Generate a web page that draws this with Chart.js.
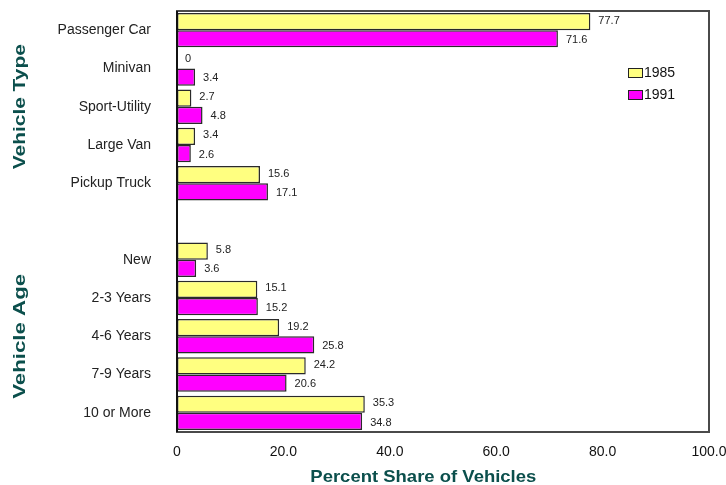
<!DOCTYPE html>
<html>
<head>
<meta charset="utf-8">
<script src="https://cdn.jsdelivr.net/npm/chart.js@4.4.1/dist/chart.umd.min.js"></script>
<style>
  html, body { margin: 0; padding: 0; background: #ffffff; }
  #wrap { width: 726px; height: 485px; position: relative; }
</style>
</head>
<body>
<div id="wrap"><canvas id="c" width="726" height="485"></canvas></div>
<script>
const categories = ['Passenger Car', 'Minivan', 'Sport-Utility', 'Large Van', 'Pickup Truck', '',
                    'New', '2-3 Years', '4-6 Years', '7-9 Years', '10 or More'];
const series1985 = [77.7, 0, 2.7, 3.4, 15.6, null, 5.8, 15.1, 19.2, 24.2, 35.3];
const series1991 = [71.6, 3.4, 4.8, 2.6, 17.1, null, 3.6, 15.2, 25.8, 20.6, 34.8];
const seriesNames = ['1985', '1991'];
const xTicks = [0, 20, 40, 60, 80, 100];
const groupTitles = [
  { text: 'Vehicle Type', from: 'Passenger Car', to: 'Pickup Truck' },
  { text: 'Vehicle Age', from: 'New', to: '10 or More' }
];
const xTitle = 'Percent Share of Vehicles';

const FONT = "'Liberation Sans', Arial, sans-serif";
const TEAL = '#0b4f4c';

const framePlugin = {
  id: 'frame',
  afterDatasetsDraw(chart) {
    const { ctx, chartArea: a } = chart;
    ctx.save();
    ctx.strokeStyle = '#4a4a4a';
    ctx.lineWidth = 2;
    ctx.strokeRect(a.left, a.top, a.right - a.left, a.bottom - a.top);
    ctx.strokeStyle = '#111';
    ctx.beginPath();
    ctx.moveTo(a.left, a.top);
    ctx.lineTo(a.left, a.bottom);
    ctx.stroke();
    ctx.restore();
  }
};

const valueLabelPlugin = {
  id: 'valueLabels',
  afterDatasetsDraw(chart) {
    const { ctx } = chart;
    ctx.save();
    ctx.font = '11px ' + FONT;
    ctx.fillStyle = '#222';
    ctx.textAlign = 'left';
    ctx.textBaseline = 'middle';
    chart.data.datasets.forEach((ds, di) => {
      const meta = chart.getDatasetMeta(di);
      meta.data.forEach((el, i) => {
        const v = ds.data[i];
        if (v === null || v === undefined) return;
        const txt = v === 0 ? '0' : v.toFixed(1);
        ctx.fillText(txt, el.x + 8, el.y + (di === 0 ? -1 : 1));
      });
    });
    ctx.restore();
  }
};

function stretchedText(ctx, text, x, y, targetWidth, rotate) {
  const w = ctx.measureText(text).width;
  const s = targetWidth / w;
  ctx.save();
  ctx.translate(x, y);
  if (rotate) ctx.rotate(-Math.PI / 2);
  ctx.scale(s, 1);
  ctx.fillText(text, 0, 0);
  ctx.restore();
}

const titlesPlugin = {
  id: 'titles',
  afterDraw(chart) {
    const { ctx, chartArea: a } = chart;
    const y = chart.scales.y;
    ctx.save();
    ctx.fillStyle = TEAL;
    ctx.font = 'bold 17px ' + FONT;
    ctx.textAlign = 'center';
    ctx.textBaseline = 'middle';
    groupTitles.forEach(g => {
      const i0 = categories.indexOf(g.from), i1 = categories.indexOf(g.to);
      const cy = (y.getPixelForValue(i0) + y.getPixelForValue(i1)) / 2;
      stretchedText(ctx, g.text, 20, cy, 125, true);
    });
    ctx.font = 'bold 17px ' + FONT;
    stretchedText(ctx, xTitle, a.left + (a.right - a.left) * 0.463, 477, 226, false);
    ctx.restore();
  }
};

const legendPlugin = {
  id: 'insideLegend',
  afterDraw(chart) {
    const { ctx, chartArea: a } = chart;
    ctx.save();
    ctx.font = '14px ' + FONT;
    ctx.textAlign = 'left';
    ctx.textBaseline = 'middle';
    chart.data.datasets.forEach((ds, i) => {
      const bx = a.right - 81, by = a.top + 57 + i * 22;
      ctx.fillStyle = ds.backgroundColor;
      ctx.fillRect(bx, by, 14, 9);
      ctx.strokeStyle = '#222';
      ctx.lineWidth = 1;
      ctx.strokeRect(bx + 0.5, by + 0.5, 14, 9);
      ctx.fillStyle = '#111';
      ctx.fillText(ds.label, bx + 16, by + 5);
    });
    ctx.restore();
  }
};

new Chart(document.getElementById('c'), {
  type: 'bar',
  data: {
    labels: categories,
    datasets: [
      { label: seriesNames[0], data: series1985, backgroundColor: '#ffff80',
        borderColor: '#2a2a2a', borderWidth: 1.5, borderSkipped: false,
        categoryPercentage: 0.9, barPercentage: 1.0 },
      { label: seriesNames[1], data: series1991, backgroundColor: '#ff00ff',
        borderColor: '#2a2a2a', borderWidth: 1.5, borderSkipped: false,
        categoryPercentage: 0.9, barPercentage: 1.0 }
    ]
  },
  options: {
    indexAxis: 'y',
    responsive: false,
    animation: false,
    layout: { padding: { left: 0, top: 11, right: 17, bottom: 0 } },
    plugins: {
      legend: { display: false },
      tooltip: { enabled: false },
      title: { display: false }
    },
    scales: {
      x: {
        type: 'linear', min: 0, max: 100,
        afterBuildTicks(scale) { scale.ticks = xTicks.map(v => ({ value: v })); },
        afterFit(scale) {
          scale.height = 53;
          scale.paddingLeft = 0; scale.paddingRight = 0;
          scale.paddingTop = 0; scale.paddingBottom = 0;
        },
        grid: { display: false, drawTicks: false },
        border: { display: false },
        ticks: {
          padding: 12,
          color: '#111',
          font: { family: FONT, size: 14 },
          maxRotation: 0,
          callback: v => v === 0 ? '0' : Number(v).toFixed(1)
        }
      },
      y: {
        type: 'category',
        afterFit(scale) {
          scale.width = 177;
          scale.paddingLeft = 0; scale.paddingRight = 0;
          scale.paddingTop = 0; scale.paddingBottom = 0;
        },
        grid: { display: false, drawTicks: false },
        border: { display: false },
        ticks: {
          padding: 26,
          color: '#222',
          autoSkip: false,
          font: { family: FONT, size: 14 }
        }
      }
    }
  },
  plugins: [framePlugin, valueLabelPlugin, titlesPlugin, legendPlugin]
});
</script>
</body>
</html>
